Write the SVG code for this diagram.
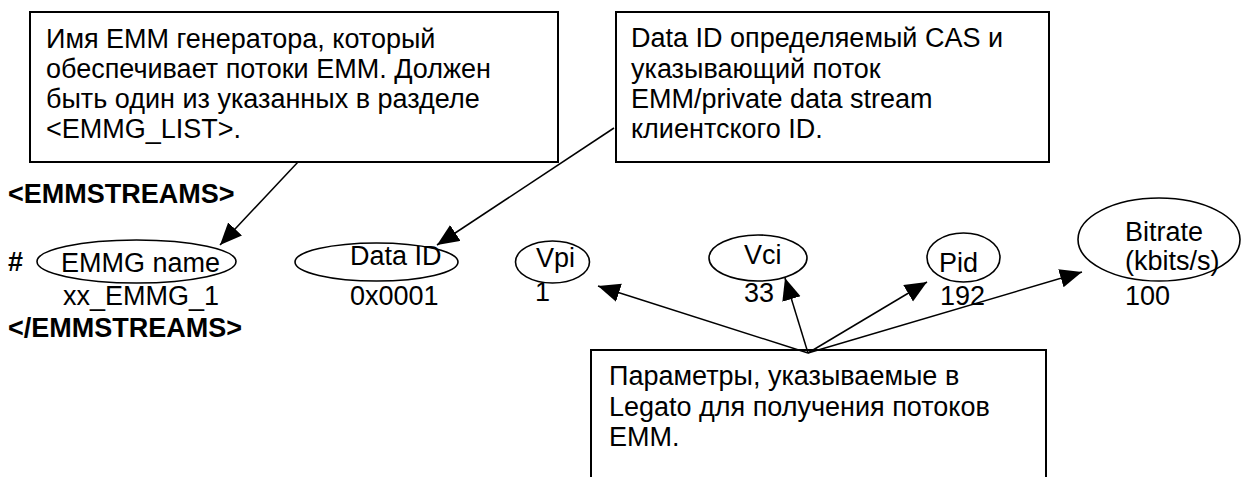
<svg xmlns="http://www.w3.org/2000/svg" width="1241" height="477" viewBox="0 0 1241 477">
<style>
text{font-family:"Liberation Sans",Arial,sans-serif;font-size:27px;fill:#000}
.b{font-weight:bold}
.box{fill:#fff;stroke:#000;stroke-width:2}
.ell{fill:none;stroke:#000;stroke-width:1.6}
.con{fill:none;stroke:#000;stroke-width:1.5;marker-end:url(#ah)}
</style>
<defs>
<marker id="ah" markerUnits="userSpaceOnUse" markerWidth="24" markerHeight="20" refX="22" refY="9.5" orient="auto">
<path d="M0,0 L22,9.5 L0,19 z" fill="#000"/>
</marker>
</defs>
<rect width="1241" height="477" fill="#fff"/>
<g id="note-emmg">
<rect class="box" x="30" y="12" width="528" height="150"/>
<text x="46" y="48">Имя EMM генератора, который</text>
<text x="46" y="78">обеспечивает потоки EMM. Должен</text>
<text x="46" y="108">быть один из указанных в разделе</text>
<text x="46" y="138">&lt;EMMG_LIST&gt;.</text>
</g>
<g id="note-dataid">
<rect class="box" x="616" y="12" width="433" height="150"/>
<text x="631" y="47">Data ID определяемый CAS и</text>
<text x="631" y="78">указывающий поток</text>
<text x="631" y="108">EMM/private data stream</text>
<text x="631" y="138">клиентского ID.</text>
</g>
<g id="note-params">
<path class="box" d="M591,478 V350 H1046 V478"/>
<text x="609" y="385">Параметры, указываемые в</text>
<text x="609" y="416">Legato для получения потоков</text>
<text x="609" y="446">EMM.</text>
</g>
<g id="tags">
<text class="b" x="8" y="203">&lt;EMMSTREAMS&gt;</text>
<text class="b" x="8" y="337">&lt;/EMMSTREAMS&gt;</text>
<text class="b" x="8" y="271">#</text>
</g>
<g id="emmg-name">
<ellipse class="ell" cx="136.5" cy="261.5" rx="99.5" ry="21.5"/>
<text x="61" y="272">EMMG name</text>
<text x="63" y="305">xx_EMMG_1</text>
</g>
<g id="data-id">
<ellipse class="ell" cx="376.5" cy="262" rx="81.5" ry="19"/>
<text x="350" y="265">Data ID</text>
<text x="350" y="305">0x0001</text>
</g>
<g id="vpi">
<ellipse class="ell" cx="552.5" cy="262" rx="37" ry="21"/>
<text x="536" y="267">Vpi</text>
<text x="535" y="301">1</text>
</g>
<g id="vci">
<ellipse class="ell" cx="758" cy="258" rx="49" ry="23"/>
<text x="744" y="264">Vci</text>
<text x="744" y="302">33</text>
</g>
<g id="pid">
<ellipse class="ell" cx="963.5" cy="257.5" rx="36.5" ry="24.5"/>
<text x="939" y="272">Pid</text>
<text x="940" y="305">192</text>
</g>
<g id="bitrate">
<ellipse class="ell" cx="1159" cy="239.5" rx="81" ry="41.5"/>
<text x="1125" y="241">Bitrate</text>
<text x="1125" y="270">(kbits/s)</text>
<text x="1125" y="305">100</text>
</g>
<g id="connectors">
<path class="con" d="M298,162 L220,245"/>
<path class="con" d="M614,128 L437,245"/>
<path class="con" d="M808,353 L598,286"/>
<path class="con" d="M808,353 L785,278"/>
<path class="con" d="M808,353 L927,282"/>
<path class="con" d="M808,353 L1082,272"/>
</g>
</svg>
